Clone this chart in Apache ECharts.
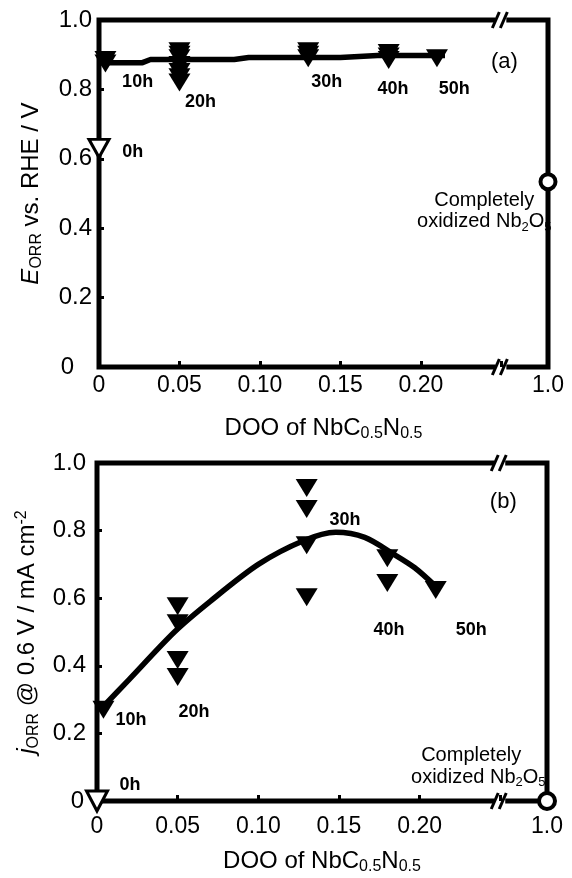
<!DOCTYPE html>
<html>
<head>
<meta charset="utf-8">
<title>DOO of NbC0.5N0.5</title>
<script src="https://cdn.jsdelivr.net/npm/echarts@6.0.0/dist/echarts.min.js"></script>
<style>
html, body { margin: 0; padding: 0; background: #fff; }
#container { width: 572px; height: 878px; }
</style>
</head>
<body>
<div id="container"></div>
<script>
// degree of oxidation of NbC0.5N0.5 after 10h .. 50h
var timeLabels = ['10h', '20h', '30h', '40h', '50h'];
var doo = [0.004, 0.05, 0.13, 0.18, 0.21];
// (a) E_ORR vs RHE / V, several electrodes per sample
var eOrr = [[0.885, 0.875], [0.91, 0.90, 0.89, 0.87, 0.85, 0.835, 0.82], [0.91, 0.90, 0.89], [0.905, 0.895, 0.885], [0.89]];
// (b) j_ORR @ 0.6 V / mA cm-2
var jOrr = [[0.27], [0.576, 0.526, 0.417, 0.367], [0.926, 0.864, 0.757, 0.603], [0.718, 0.645], [0.624]];
// untreated sample (0h) and completely oxidized Nb2O5
var dooStart = 0, eOrrStart = 0.63, jOrrStart = 0;
var dooOxide = 1.0, eOrrOxide = 0.534, jOrrOxide = 0;
// trend lines
var trendA = [[0, 0.877], [0.027, 0.877], [0.032, 0.886], [0.084, 0.886], [0.093, 0.892], [0.15, 0.892], [0.173, 0.898], [0.215, 0.898]];
var trendB = [[0.002, 0.27], [0.02, 0.36], [0.048, 0.5], [0.07, 0.59], [0.1, 0.7], [0.128, 0.77], [0.148, 0.795], [0.166, 0.78], [0.184, 0.73], [0.197, 0.69], [0.21, 0.635]];

// broken x axis: 0..0.25 linear, then squeezed up to 1.0
var BREAK_AT = 0.25, X_END = 0.279;
function toAxis(v) {
    if (v <= BREAK_AT) return v;
    return BREAK_AT + (v - BREAK_AT) * (X_END - BREAK_AT) / (1 - BREAK_AT);
}

// text notes, positions in axis units
var notesA = [
    ['0h', 0.021, 0.62, 'h'], ['10h', 0.024, 0.821, 'h'], ['20h', 0.063, 0.764, 'h'],
    ['30h', 0.1415, 0.821, 'h'], ['40h', 0.1827, 0.801, 'h'], ['50h', 0.2207, 0.801, 'h'],
    ['(a)', 0.2519, 0.879, 'tag'],
    ['Completely', 0.2394, 0.481, 'note'], ['{n|oxidized Nb}{s|2}{n|O}{s|5}', 0.2394, 0.418, 'note']
];
var notesB = [
    ['0h', 0.0205, 0.047, 'h'], ['10h', 0.0211, 0.24, 'h'], ['20h', 0.0602, 0.263, 'h'],
    ['30h', 0.1538, 0.831, 'h'], ['40h', 0.1811, 0.506, 'h'], ['50h', 0.232, 0.506, 'h'],
    ['(b)', 0.2519, 0.885, 'tag'],
    ['Completely', 0.232, 0.136, 'note'], ['{n|oxidized Nb}{s|2}{n|O}{s|5}', 0.2364, 0.071, 'note']
];

var FONT = '"Liberation Sans", Arial, sans-serif';
var noteStyles = {
    h: { fontSize: 18, fontWeight: 'bold' },
    tag: { fontSize: 22, fontWeight: 'normal' },
    note: { fontSize: 20, fontWeight: 'normal' }
};

function points(vals) {
    var out = [];
    doo.forEach(function (x, i) {
        vals[i].forEach(function (y) { out.push([toAxis(x), y]); });
    });
    return out;
}
function line(pts) {
    return pts.map(function (p) { return [toAxis(p[0]), p[1]]; });
}
function notes(list) {
    return list.map(function (n) {
        var st = noteStyles[n[3]];
        return {
            value: [n[1], n[2]],
            label: {
                show: true, position: 'inside', formatter: n[0], color: '#000', opacity: 1,
                fontFamily: FONT, fontSize: st.fontSize, fontWeight: st.fontWeight,
                rich: {
                    n: { fontFamily: FONT, fontSize: 20, lineHeight: 24, color: '#000' },
                    s: { fontFamily: FONT, fontSize: 13, lineHeight: 12, verticalAlign: 'bottom', color: '#000' }
                }
            }
        };
    });
}

var nameRich = {
    i: { fontFamily: FONT, fontSize: 24, fontStyle: 'italic', lineHeight: 28, color: '#000' },
    n: { fontFamily: FONT, fontSize: 24, lineHeight: 28, color: '#000' },
    sub: { fontFamily: FONT, fontSize: 16, lineHeight: 14, verticalAlign: 'bottom', color: '#000' },
    sup: { fontFamily: FONT, fontSize: 16, lineHeight: 14, verticalAlign: 'top', color: '#000' }
};

function xAxis(gridIndex, labelMargin, nameGap) {
    return {
        type: 'value', gridIndex: gridIndex, min: 0, max: X_END, interval: 0.05,
        name: '{n|DOO of NbC}{sub|0.5}{n|N}{sub|0.5}',
        nameLocation: 'middle', nameGap: nameGap,
        nameTextStyle: { rich: nameRich },
        axisLine: { show: false },
        axisTick: { inside: true, length: 6, lineStyle: { color: '#000', width: 3 } },
        splitLine: { show: false },
        axisLabel: {
            margin: labelMargin, color: '#000', fontFamily: FONT, fontSize: 23,
            formatter: function (v) {
                if (Math.abs(v - X_END) < 1e-6) return '1.0';
                if (v > BREAK_AT - 1e-6) return '';
                return v === 0 ? '0' : v.toFixed(2);
            }
        }
    };
}
function yAxis(gridIndex, name, labelMargin, zeroPad) {
    return {
        type: 'value', gridIndex: gridIndex, min: 0, max: 1, interval: 0.2,
        name: name, nameLocation: 'middle', nameGap: 54, nameRotate: 90,
        nameTextStyle: { rich: nameRich },
        axisLine: { show: false },
        axisTick: { inside: true, length: 5, lineStyle: { color: '#000', width: 3 } },
        splitLine: { show: false },
        axisLabel: {
            margin: labelMargin, color: '#000', fontFamily: FONT, fontSize: 24,
            rich: { z: { fontFamily: FONT, fontSize: 24, color: '#000', padding: [0, zeroPad, 0, 0] } },
            formatter: function (v) { return v === 0 ? '{z|0}' : v.toFixed(1); }
        }
    };
}

var filled = { color: '#000', opacity: 1 };
var hollow = { color: '#fff', borderColor: '#000', borderWidth: 3, opacity: 1 };
var oxideStyle = { color: '#fff', borderColor: '#000', borderWidth: 4, opacity: 1 };
var invisible = { color: 'rgba(0,0,0,0)', opacity: 1 };

var dom = document.getElementById('container');
var myChart = echarts.init(dom, null, { renderer: 'canvas' });
var option = {
    backgroundColor: '#fff',
    animation: false,
    grid: [
        { left: 99, right: 24, top: 20, height: 347, show: true, borderColor: '#000', borderWidth: 5 },
        { left: 97, right: 25, top: 463, height: 338, show: true, borderColor: '#000', borderWidth: 5 }
    ],
    xAxis: [xAxis(0, 7, 47), xAxis(1, 14, 46)],
    yAxis: [
        yAxis(0, '{i|E}{sub|ORR}{n| vs. RHE / V}', 7, 18),
        yAxis(1, '{i|j}{sub|ORR}{n| @ 0.6 V / mA cm}{sup|-2}', 11, 2)
    ],
    series: [
        { type: 'line', xAxisIndex: 0, yAxisIndex: 0, data: line(trendA), symbol: 'none',
          lineStyle: { color: '#000', width: 5.5 }, z: 3 },
        { type: 'scatter', xAxisIndex: 0, yAxisIndex: 0, data: points(eOrr), symbol: 'triangle',
          symbolRotate: 180, symbolSize: [22, 18], itemStyle: filled, z: 4 },
        { type: 'scatter', xAxisIndex: 0, yAxisIndex: 0, data: [[toAxis(dooStart), eOrrStart]], symbol: 'triangle',
          symbolRotate: 180, symbolSize: [20, 18], itemStyle: hollow, z: 4 },
        { type: 'scatter', xAxisIndex: 0, yAxisIndex: 0, data: [[toAxis(dooOxide), eOrrOxide]], symbol: 'circle',
          symbolSize: 15, itemStyle: oxideStyle, clip: false, z: 5 },
        { type: 'scatter', xAxisIndex: 0, yAxisIndex: 0, data: notes(notesA), symbolSize: 1,
          itemStyle: invisible, clip: false, silent: true, z: 6 },

        { type: 'line', xAxisIndex: 1, yAxisIndex: 1, data: line(trendB), symbol: 'none', smooth: 0.3,
          lineStyle: { color: '#000', width: 5.5 }, z: 3 },
        { type: 'scatter', xAxisIndex: 1, yAxisIndex: 1, data: points(jOrr), symbol: 'triangle',
          symbolRotate: 180, symbolSize: [22, 18], itemStyle: filled, z: 4 },
        { type: 'scatter', xAxisIndex: 1, yAxisIndex: 1, data: [[toAxis(dooStart), jOrrStart]], symbol: 'triangle',
          symbolRotate: 180, symbolSize: [21, 20], itemStyle: hollow, clip: false, z: 5 },
        { type: 'scatter', xAxisIndex: 1, yAxisIndex: 1, data: [[toAxis(dooOxide), jOrrOxide]], symbol: 'circle',
          symbolSize: 16, itemStyle: oxideStyle, clip: false, z: 5 },
        { type: 'scatter', xAxisIndex: 1, yAxisIndex: 1, data: notes(notesB), symbolSize: 1,
          itemStyle: invisible, clip: false, silent: true, z: 6 }
    ]
};
myChart.setOption(option);

// "//" marks where the x axis is broken
function breakMark(gridIndex, yVal) {
    var p = myChart.convertToPixel({ gridIndex: gridIndex }, [BREAK_AT, yVal]);
    return {
        type: 'group', x: p[0], y: p[1], z: 10,
        children: [
            { type: 'rect', shape: { x: -6, y: -8, width: 11, height: 16 }, style: { fill: '#fff' } },
            { type: 'line', shape: { x1: -9, y1: 8, x2: -2, y2: -8 }, style: { stroke: '#000', lineWidth: 3 } },
            { type: 'line', shape: { x1: -1, y1: 8, x2: 6, y2: -8 }, style: { stroke: '#000', lineWidth: 3 } }
        ]
    };
}
myChart.setOption({
    graphic: [breakMark(0, 1), breakMark(0, 0), breakMark(1, 1), breakMark(1, 0)]
});
</script>
</body>
</html>
